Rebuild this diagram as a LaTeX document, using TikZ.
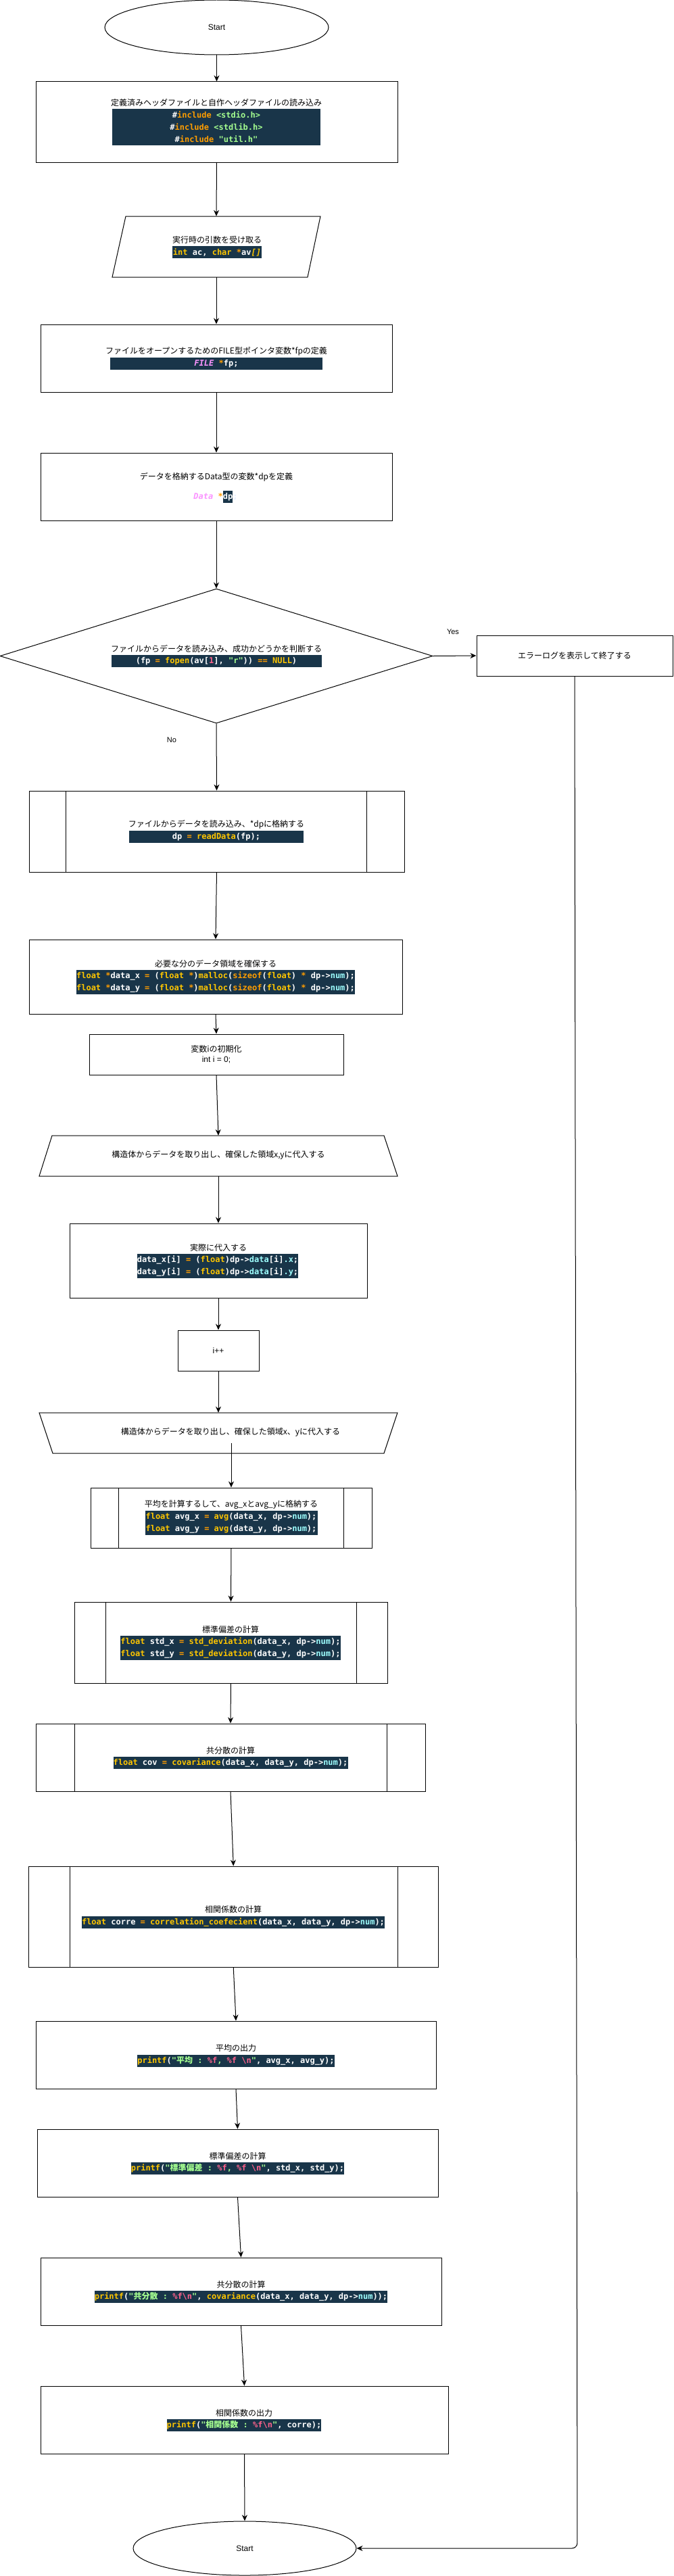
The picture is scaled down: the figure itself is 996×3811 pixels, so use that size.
\documentclass[tikz,border=0pt]{standalone}
\usepackage{fontspec}
\setmainfont{Noto Sans CJK JP}
\newfontfamily\jpf{Noto Sans CJK JP}
\newfontfamily\lat{Liberation Sans}
\setmonofont{DejaVu Sans Mono}
\usetikzlibrary{shapes.geometric,arrows.meta}
\definecolor{codebg}{HTML}{193549}
\definecolor{cy}{HTML}{FFC600}
\definecolor{co}{HTML}{FF9D00}
\definecolor{cg}{HTML}{A5FF90}
\definecolor{cc}{HTML}{9EFFFF}
\definecolor{cp}{HTML}{FF628C}
\definecolor{cm}{HTML}{FB94FF}
\definecolor{semi}{HTML}{E6F0FF}
\newcommand\kY[1]{\textcolor{cy}{#1}}
\newcommand\kO[1]{\textcolor{co}{#1}}
\newcommand\kG[1]{\textcolor{cg}{#1}}
\newcommand\kC[1]{\textcolor{cc}{#1}}
\newcommand\kP[1]{\textcolor{cp}{#1}}
\newcommand\kM[1]{\textcolor{cm}{#1}}
\newcommand\jpc[1]{{\jpf\bfseries #1}}
\tikzset{
  shp/.style={draw=black, line width=1pt, inner sep=0pt},
  rbox/.style={shp, rectangle},
  ghost/.style={rectangle, inner sep=0pt},
  ttl/.style={font=\jpf\fontsize{12}{15}\selectfont, inner sep=0pt, text=black, align=center},
  codeblk/.style={fill=codebg, text=white, inner sep=0pt, align=center, font=\ttfamily\bfseries\fontsize{12}{18}\selectfont},
  arr/.style={draw=black, line width=1pt, -{Stealth[length=9pt,width=8pt]}},
  lbl/.style={font=\lat\fontsize{11}{13}\selectfont, inner sep=0pt},
  latxt/.style={font=\lat\fontsize{12}{15}\selectfont},
}
\begin{document}
\begin{tikzpicture}[x=1pt,y=-1pt]
\path[use as bounding box, fill=white] (0,0) rectangle (996,3811);

% ---------- shapes ----------
\node[shp, ellipse, minimum width=331pt, minimum height=81pt, latxt] (start) at (320.5,40.5) {Start};
\node[rbox, minimum width=535pt, minimum height=119pt] (b1) at (320.5,180.5) {};
\node[ghost, minimum width=308pt, minimum height=90pt] (par) at (320,365) {};
\draw[line width=1pt] (186,320) -- (474,320) -- (455,410) -- (166,410) -- cycle;
\node[rbox, minimum width=520pt, minimum height=100pt] (fileb) at (320,530) {};
\node[rbox, minimum width=520pt, minimum height=100pt] (datab) at (320,720) {};
\node[shp, diamond, minimum width=640pt, minimum height=199pt] (dia) at (320,970.5) {};
\node[rbox, minimum width=290pt, minimum height=60pt, ttl] (errb) at (850,970) {エラーログを表示して終了する};
\node[rbox, minimum width=555pt, minimum height=120pt] (readb) at (320.5,1230) {};
\draw[line width=1pt] ([xshift=55pt]readb.north west) -- ([xshift=55pt]readb.south west);
\draw[line width=1pt] ([xshift=-56pt]readb.north east) -- ([xshift=-56pt]readb.south east);
\node[rbox, minimum width=552pt, minimum height=110pt] (mallocb) at (319,1445) {};
\node[rbox, minimum width=376pt, minimum height=60pt, ttl] (initb) at (320,1560) {変数iの初期化\\{\lat int i = 0;}};
\node[ghost, minimum width=530pt, minimum height=60pt] (trap1) at (323,1710) {};
\draw[line width=1pt] (77,1680) -- (568,1680) -- (588,1740) -- (58,1740) -- cycle;
\node[rbox, minimum width=440pt, minimum height=110pt] (assignb) at (323,1865) {};
\node[rbox, minimum width=120pt, minimum height=60pt, latxt] (incb) at (323,1998) {i++};
\node[ghost, minimum width=530pt, minimum height=60pt] (trap2) at (323,2120) {};
\draw[line width=1pt] (58,2090) -- (588,2090) -- (568,2150) -- (78,2150) -- cycle;
\node[rbox, minimum width=416pt, minimum height=89pt] (avgb) at (342,2245.5) {};
\draw[line width=1pt] ([xshift=42pt]avgb.north west) -- ([xshift=42pt]avgb.south west);
\draw[line width=1pt] ([xshift=-42pt]avgb.north east) -- ([xshift=-42pt]avgb.south east);
\node[rbox, minimum width=463pt, minimum height=120pt] (stdb) at (341.5,2430) {};
\draw[line width=1pt] ([xshift=47pt]stdb.north west) -- ([xshift=47pt]stdb.south west);
\draw[line width=1pt] ([xshift=-46pt]stdb.north east) -- ([xshift=-46pt]stdb.south east);
\node[rbox, minimum width=576pt, minimum height=100pt] (covb) at (341,2600) {};
\draw[line width=1pt] ([xshift=58pt]covb.north west) -- ([xshift=58pt]covb.south west);
\draw[line width=1pt] ([xshift=-57pt]covb.north east) -- ([xshift=-57pt]covb.south east);
\node[rbox, minimum width=605.5pt, minimum height=149pt] (corrb) at (345.25,2835.5) {};
\draw[line width=1pt] ([xshift=61.5pt]corrb.north west) -- ([xshift=61.5pt]corrb.south west);
\draw[line width=1pt] ([xshift=-60pt]corrb.north east) -- ([xshift=-60pt]corrb.south east);
\node[rbox, minimum width=592pt, minimum height=100pt] (avgout) at (349,3040) {};
\node[rbox, minimum width=593pt, minimum height=100pt] (stdout) at (351.5,3200) {};
\node[rbox, minimum width=593pt, minimum height=100pt] (covout) at (356.5,3390) {};
\node[rbox, minimum width=603pt, minimum height=100pt] (corrout) at (361.5,3580) {};
\node[shp, ellipse, minimum width=330pt, minimum height=80pt, latxt] (endell) at (362,3770) {Start};

% ---------- texts ----------
\node[ttl] (t1) at (320,152) {定義済みヘッダファイルと自作ヘッダファイルの読み込み};
\node[codeblk, minimum width=308pt, minimum height=54pt] (c1) at (320,188)
  {\#\kO{include} \kG{<stdio.h>}\\\#\kO{include} \kG{<stdlib.h>}\\\#\kO{include} \kG{"util.h"}};

\node[ttl] (t2) at (321,355) {実行時の引数を受け取る};
\node[codeblk, minimum width=132pt, minimum height=18pt] (c2) at (321,373)
  {\kY{int} ac, \kY{char} \kO{*}av\kY{\itshape[]}};

\node[ttl] (t3) at (320,520) {ファイルをオープンするためのFILE型ポインタ変数*fpの定義};
\node[codeblk, minimum width=314pt, minimum height=18pt] (c3) at (320,538)
  {\kM{\itshape FILE} \kO{*}fp;};

\node[ttl] (t4) at (320,706) {データを格納するData型の変数*dpを定義};
\node[inner sep=0pt, font=\ttfamily\bfseries\fontsize{12}{18}\selectfont] (c4) at (319,735)
  {\kM{\itshape Data} \kO{*}{\setlength{\fboxsep}{0pt}\colorbox{codebg}{\textcolor{white}{\strut dp}}}\textcolor{semi}{;}};

\node[ttl] (t5) at (320,960) {ファイルからデータを読み込み、成功かどうかを判断する};
\node[codeblk, minimum width=311pt, minimum height=18pt] (c5) at (320,978)
  {(fp \kO{=} \kY{fopen}(av[\kP{1}], \kG{"r"})) \kO{==} \kY{NULL})};

\node[ttl] (t6) at (320,1220) {ファイルからデータを読み込み、*dpに格納する};
\node[codeblk, minimum width=258pt, minimum height=18pt] (c6) at (320,1238)
  {dp \kO{=} \kY{readData}(fp);};

\node[ttl] (t7) at (319,1426) {必要な分のデータ領域を確保する};
\node[codeblk, minimum width=412pt, minimum height=36pt] (c7) at (319,1453)
  {\kY{float} \kO{*}data\_x \kO{=} (\kY{float} \kO{*})\kY{malloc}(\kO{sizeof}(\kY{float}) \kO{*} dp->\kC{num});\\
   \kY{float} \kO{*}data\_y \kO{=} (\kY{float} \kO{*})\kY{malloc}(\kO{sizeof}(\kY{float}) \kO{*} dp->\kC{num});};

\node[ttl] (t8) at (323,1709) {構造体からデータを取り出し、確保した領域x,yに代入する};

\node[ttl] (t9) at (323,1846) {実際に代入する};
\node[codeblk, minimum width=237pt, minimum height=36pt] (c9) at (322,1873)
  {data\_x[i] \kO{=} (\kY{float})dp->\kC{data}[i]\kC{.x};\\
   data\_y[i] \kO{=} (\kY{float})dp->\kC{data}[i]\kC{.y};};

\node[ttl] (t10) at (341,2119) {構造体からデータを取り出し、確保した領域x、yに代入する};
\coordinate (t2src) at (342,2135);

\node[ttl] (t11) at (342,2226) {平均を計算するして、avg\_xとavg\_yに格納する};
\node[codeblk, minimum width=255pt, minimum height=36pt] (c11) at (342,2253)
  {\kY{float} avg\_x \kO{=} \kY{avg}(data\_x, dp->\kC{num});\\
   \kY{float} avg\_y \kO{=} \kY{avg}(data\_y, dp->\kC{num});};

\node[ttl] (t12) at (341,2411) {標準偏差の計算};
\node[codeblk, minimum width=326pt, minimum height=36pt] (c12) at (341,2438)
  {\kY{float} std\_x \kO{=} \kY{std\_deviation}(data\_x, dp->\kC{num});\\
   \kY{float} std\_y \kO{=} \kY{std\_deviation}(data\_y, dp->\kC{num});};

\node[ttl] (t13) at (341,2590) {共分散の計算};
\node[codeblk, minimum width=347pt, minimum height=18pt] (c13) at (341,2608)
  {\kY{float} cov \kO{=} \kY{covariance}(data\_x, data\_y, dp->\kC{num});};

\node[ttl] (t14) at (345,2825) {相関係数の計算};
\node[codeblk, minimum width=448pt, minimum height=18pt] (c14) at (345,2844)
  {\kY{float} corre \kO{=} \kY{correlation\_coefecient}(data\_x, data\_y, dp->\kC{num});};

\node[ttl] (t15) at (349,3030) {平均の出力};
\node[codeblk, minimum width=290pt, minimum height=18pt] (c15) at (349,3049)
  {\kY{printf}(\kG{"\jpc{平均} : }\kP{\%f}\kG{, }\kP{\%f \textbackslash n}\kG{"}, avg\_x, avg\_y);};

\node[ttl] (t16) at (351.5,3190) {標準偏差の計算};
\node[codeblk, minimum width=315pt, minimum height=18pt] (c16) at (351.5,3208)
  {\kY{printf}(\kG{"\jpc{標準偏差} : }\kP{\%f}\kG{, }\kP{\%f \textbackslash n}\kG{"}, std\_x, std\_y);};

\node[ttl] (t17) at (356.5,3380) {共分散の計算};
\node[codeblk, minimum width=433pt, minimum height=18pt] (c17) at (356.5,3398)
  {\kY{printf}(\kG{"\jpc{共分散} : }\kP{\%f\textbackslash n}\kG{"}, \kY{covariance}(data\_x, data\_y, dp->\kC{num}));};

\node[ttl] (t18) at (361,3570) {相関係数の出力};
\node[codeblk, minimum width=228pt, minimum height=18pt] (c18) at (361,3588)
  {\kY{printf}(\kG{"\jpc{相関係数} : }\kP{\%f\textbackslash n}\kG{"}, corre);};

\node[lbl] (yes) at (670,935) {Yes};
\node[lbl] (no) at (254,1095) {No};
\coordinate (ecorner) at (854,3770);

% ---------- connectors ----------
\draw[arr] (start.south) -- (b1.north);
\draw[arr] (b1.south) -- (par.north);
\draw[arr] (par.south) -- (fileb.north);
\draw[arr] (fileb.south) -- (datab.north);
\draw[arr] (datab.south) -- (dia.north);
\draw[arr] (dia.east) -- (errb.west);
\draw[arr] (dia.south) -- (readb.north);
\draw[arr] (readb.south) -- (mallocb.north);
\draw[arr] (mallocb.south) -- (initb.north);
\draw[arr] (initb.south) -- (trap1.north);
\draw[arr] (trap1.south) -- (assignb.north);
\draw[arr] (assignb.south) -- (incb.north);
\draw[arr] (incb.south) -- (trap2.north);
\draw[arr] (t2src) -- (avgb.north);
\draw[arr] (avgb.south) -- (stdb.north);
\draw[arr] (stdb.south) -- (covb.north);
\draw[arr] (covb.south) -- (corrb.north);
\draw[arr] (corrb.south) -- (avgout.north);
\draw[arr] (avgout.south) -- (stdout.north);
\draw[arr] (stdout.south) -- (covout.north);
\draw[arr] (covout.south) -- (corrout.north);
\draw[arr] (corrout.south) -- (endell.north);
\draw[arr, rounded corners=8pt] (errb.south) -- (ecorner) -- (endell.east);
\end{tikzpicture}
\end{document}
